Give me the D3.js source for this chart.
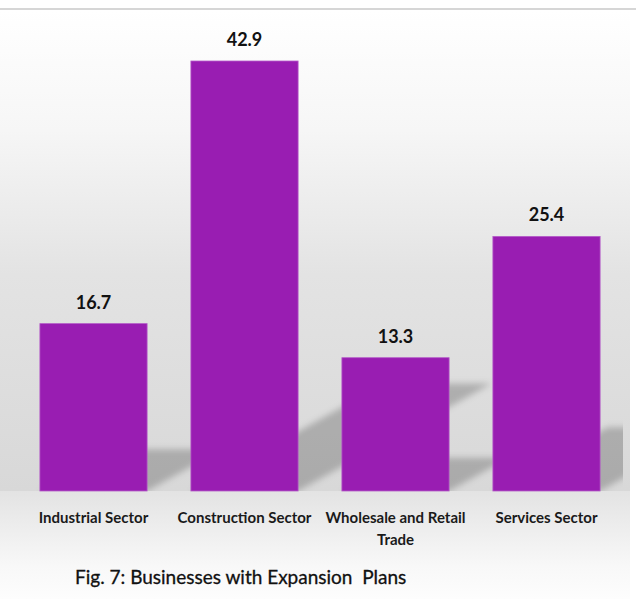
<!DOCTYPE html>
<html>
<head>
<meta charset="utf-8">
<script src="https://cdn.jsdelivr.net/npm/d3@7"></script>
<style>
  html, body { margin: 0; padding: 0; background: #ffffff; }
  svg { display: block; }
</style>
</head>
<body>
<div id="chart"></div>
<script>
// chart values
const categories = ["Industrial Sector", "Construction Sector", "Wholesale and Retail Trade", "Services Sector"];
const values = [16.7, 42.9, 13.3, 25.4];
const chartTitle = "Fig. 7: Businesses with Expansion  Plans";

const width = 636, height = 599;
const baseY = 491;

const svg = d3.select("#chart").append("svg")
  .attr("width", width)
  .attr("height", height)
  .style("font-family", "Lato, 'Open Sans', sans-serif");

const defs = svg.append("defs");

// background gradients (wall above the base, floor below it)
const wall = defs.append("linearGradient").attr("id", "wall")
  .attr("gradientUnits", "userSpaceOnUse")
  .attr("x1", 0).attr("y1", 10).attr("x2", 0).attr("y2", baseY);
[[0, "#ffffff"], [0.25, "#f6f6f6"], [0.55, "#e3e3e3"], [1, "#d8d8d8"]].forEach(s =>
  wall.append("stop").attr("offset", s[0]).attr("stop-color", s[1]));

const floor = defs.append("linearGradient").attr("id", "floor")
  .attr("gradientUnits", "userSpaceOnUse")
  .attr("x1", 0).attr("y1", baseY).attr("x2", 0).attr("y2", height);
[[0, "#e3e3e3"], [0.7, "#f8f8f8"], [1, "#fdfdfd"]].forEach(s =>
  floor.append("stop").attr("offset", s[0]).attr("stop-color", s[1]));

defs.append("filter").attr("id", "blur")
  .attr("x", "-20%").attr("y", "-20%").attr("width", "140%").attr("height", "140%")
  .append("feGaussianBlur").attr("stdDeviation", 3);

defs.append("clipPath").attr("id", "plotClip")
  .append("rect").attr("x", 0).attr("y", 0).attr("width", 623).attr("height", baseY);

svg.append("rect").attr("x", 0).attr("y", 10).attr("width", 630).attr("height", baseY - 10)
  .attr("fill", "url(#wall)");
svg.append("rect").attr("x", 0).attr("y", baseY).attr("width", 630).attr("height", height - baseY)
  .attr("fill", "url(#floor)");

// top border line
svg.append("line")
  .attr("x1", 0).attr("x2", width).attr("y1", 9).attr("y2", 9)
  .attr("stroke", "#d6d6d6").attr("stroke-width", 2);

const x = d3.scaleBand()
  .domain(categories)
  .range([18, 622])
  .paddingInner(0.29)
  .paddingOuter(0.145);

const y = d3.scaleLinear()
  .domain([0, 42.9])
  .range([baseY, 61]);

const data = categories.map((c, i) => ({ name: c, value: values[i] }));

// perspective shadows behind the bars
svg.append("g")
  .attr("clip-path", "url(#plotClip)")
  .selectAll("polygon")
  .data(data)
  .join("polygon")
  .attr("points", d => {
    const x0 = x(d.name), x1 = x0 + x.bandwidth();
    const kh = (y(0) - y(d.value)) * 0.25;
    const s = kh * 1.8;
    return [[x0, baseY], [x1, baseY], [x1 + s, baseY - kh], [x0 + s, baseY - kh]].join(" ");
  })
  .attr("fill", "#000")
  .attr("fill-opacity", 0.21)
  .attr("filter", "url(#blur)");

// bars
svg.append("g")
  .selectAll("rect")
  .data(data)
  .join("rect")
  .attr("x", d => x(d.name))
  .attr("y", d => y(d.value))
  .attr("width", x.bandwidth())
  .attr("height", d => y(0) - y(d.value))
  .attr("fill", "#991db2")
  .attr("stroke", "#b45cc8")
  .attr("stroke-width", 0.8);

// value labels
svg.append("g")
  .selectAll("text")
  .data(data)
  .join("text")
  .attr("x", d => x(d.name) + x.bandwidth() / 2)
  .attr("y", d => y(d.value) - 15)
  .attr("text-anchor", "middle")
  .attr("font-size", "18px")
  .attr("font-weight", "bold")
  .attr("fill", "#111")
  .text(d => d.value.toFixed(1));

// category labels, wrapped to the band step
const labels = svg.append("g")
  .selectAll("text")
  .data(data)
  .join("text")
  .attr("x", d => x(d.name) + x.bandwidth() / 2)
  .attr("y", 523)
  .attr("text-anchor", "middle")
  .attr("font-size", "15px")
  .attr("font-weight", "bold")
  .attr("fill", "#1a1a1a");

labels.each(function(d) {
  const el = d3.select(this);
  const words = d.name.split(" ");
  const maxW = x.step();
  let line = [];
  let tspan = el.append("tspan").attr("x", el.attr("x")).attr("dy", 0);
  words.forEach(w => {
    line.push(w);
    tspan.text(line.join(" "));
    if (tspan.node().getComputedTextLength() > maxW && line.length > 1) {
      line.pop();
      tspan.text(line.join(" "));
      line = [w];
      tspan = el.append("tspan").attr("x", el.attr("x")).attr("dy", 22).text(w);
    }
  });
});

// title
svg.append("text")
  .attr("x", 75)
  .attr("y", 584)
  .attr("font-size", "19px")
  .attr("fill", "#111")
  .attr("stroke", "#111")
  .attr("stroke-width", 0.3)
  .style("white-space", "pre")
  .text(chartTitle);
</script>
</body>
</html>
